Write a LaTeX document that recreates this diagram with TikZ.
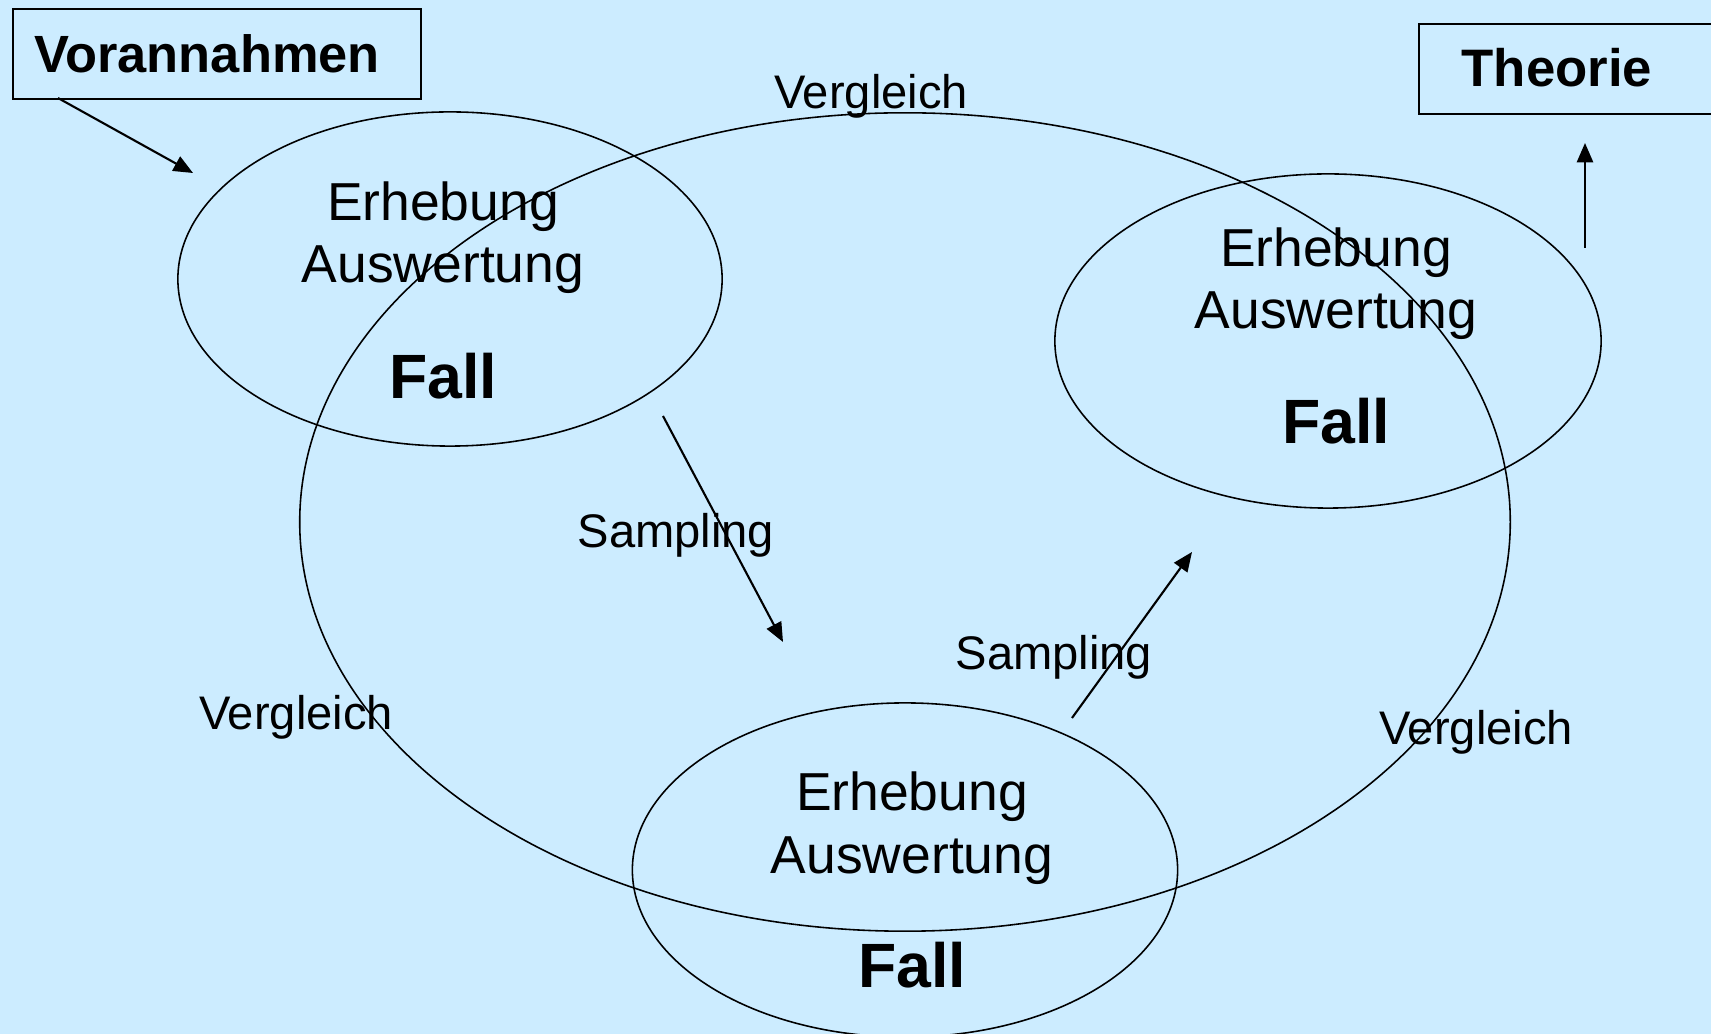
\documentclass[tikz,border=0pt]{standalone}
\usepackage{fontspec}
\setmainfont{Liberation Sans}
\usetikzlibrary{arrows.meta,shapes.geometric}
\definecolor{bgblue}{HTML}{CCECFF}
\begin{document}
\begin{tikzpicture}[x=0.01cm,y=-0.01cm,
  oval/.style={draw=black,line width=0.45pt,ellipse,inner sep=0pt},
  txt/.style={inner sep=0pt,font=\fontsize{15.2}{18}\selectfont},
  fall/.style={inner sep=0pt,font=\fontsize{17.8}{21}\selectfont\bfseries},
  lab/.style={inner sep=0pt,font=\fontsize{13.4}{16}\selectfont},
  boxed/.style={draw=black,line width=0.6pt,inner sep=0pt,anchor=north west},
  arr/.style={line width=0.6pt,-{Triangle[length=5.5pt,width=4.6pt]}}]
\fill[bgblue] (0,0) rectangle (1711,1034);
\useasboundingbox (0,0) rectangle (1711,1034);
% boxes
\node[boxed,minimum width=408*0.2845pt,minimum height=90*0.2845pt] (voran) at (12,8) {};
\node[inner sep=0pt,font=\fontsize{14.9}{18}\selectfont\bfseries] (vorantxt) at (207,54) {Vorannahmen};
\node[boxed,minimum width=300*0.2845pt,minimum height=90*0.2845pt] (theo) at (1418,23) {};
\node[inner sep=0pt,font=\fontsize{15}{18}\selectfont\bfseries] (theotxt) at (1557,68) {Theorie};
% ellipses
\node[oval,minimum width=1210*0.2845pt,minimum height=818*0.2845pt] (big) at (905,522) {};
\node[oval,minimum width=544*0.2845pt,minimum height=334*0.2845pt] (e1) at (450,279) {};
\node[oval,minimum width=546*0.2845pt,minimum height=334*0.2845pt] (e2) at (1328,341) {};
\node[oval,minimum width=545*0.2845pt,minimum height=334*0.2845pt] (e3) at (905,870) {};
% texts in ellipses
\node[txt] (e1a) at (443,207) {Erhebung};
\node[txt] (e1b) at (443,270) {Auswertung};
\node[fall] (e1c) at (443,376) {Fall};
\node[txt] (e2a) at (1336,253) {Erhebung};
\node[txt] (e2b) at (1336,316) {Auswertung};
\node[fall] (e2c) at (1336,421) {Fall};
\node[txt] (e3a) at (912,797) {Erhebung};
\node[txt] (e3b) at (912,861) {Auswertung};
\node[fall] (e3c) at (912,965) {Fall};
% labels
\node[lab] (v1) at (871,96) {Vergleich};
\node[lab] (v2) at (296,717) {Vergleich};
\node[lab] (v3) at (1476,732) {Vergleich};
\node[lab] (s1) at (676,535) {Sampling};
\node[lab] (s2) at (1054,657) {Sampling};
% arrows
\coordinate (a1s) at (58,98);
\coordinate (a1e) at (193,173);
\coordinate (a2s) at (1585,248);
\coordinate (a2e) at (1585,143);
\coordinate (a3s) at (663,416);
\coordinate (a3e) at (783,642);
\coordinate (a4s) at (1072,718);
\coordinate (a4e) at (1192,552);
\draw[arr] (a1s) -- (a1e);
\draw[arr] (a2s) -- (a2e);
\draw[arr] (a3s) -- (a3e);
\draw[arr] (a4s) -- (a4e);
\end{tikzpicture}
\end{document}
